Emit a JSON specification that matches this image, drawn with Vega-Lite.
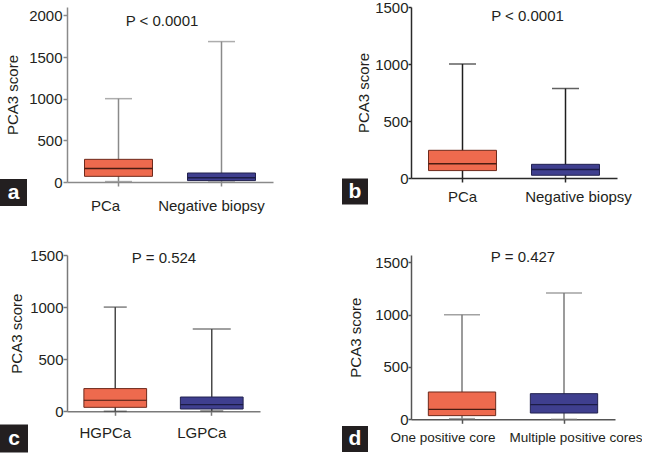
{
  "$schema": "https://vega.github.io/schema/vega-lite/v6.json",
  "background": "white",
  "padding": 0,
  "config": {
    "font": "Liberation Sans",
    "numberFormat": "d",
    "view": {"stroke": null},
    "axis": {"labelFont": "Liberation Sans", "titleFont": "Liberation Sans", "labelColor": "#231f20", "titleColor": "#231f20", "grid": false, "titleFontWeight": "normal", "labelFontSize": 15, "titleFontSize": 15, "domainWidth": 1.5, "tickWidth": 1.5},
    "title": {"font": "Liberation Sans", "fontSize": 15, "fontWeight": "normal", "color": "#231f20"}
  },
  "columns": 2,
  "bounds": "flush",
  "align": "each",
  "spacing": {"row": 73, "column": 138},
  "resolve": {"scale": {"fill": "independent", "x": "independent", "y": "independent"}, "legend": {"fill": "independent"}},
  "concat": [
    {
      "width": 206, "height": 175,
      "title": {"text": "P < 0.0001", "frame": "group", "anchor": "middle", "baseline": "alphabetic", "offset": -30, "dx": -8, "dy": 4},
      "data": {"values": [
        {"panel": "a", "group": "PCa", "min": 5, "q1": 68, "median": 161, "q3": 272, "max": 1000},
        {"panel": "a", "group": "Negative biopsy", "min": 0, "q1": 17, "median": 50, "q3": 108, "max": 1685}
      ]},
      "encoding": {
        "x": {"field": "group", "type": "nominal", "sort": null, "scale": {"paddingInner": 0.34, "paddingOuter": 0.17},
          "axis": {"title": null, "labelAngle": 0, "labelPadding": 12, "tickSize": 4, "domainColor": "#8a8a8a", "tickColor": "#8a8a8a",
            "labelOffset": {"condition": {"test": "datum.value === 'PCa'", "value": -13}, "value": -10}}}
      },
      "layer": [
        {"mark": {"type": "square", "opacity": 0},
          "encoding": {"y": {"field": "median", "type": "quantitative", "scale": {"domain": [0, 2100], "nice": false},
            "axis": {"title": "PCA3 score", "values": [0, 500, 1000, 1500, 2000], "tickSize": 4, "labelPadding": 1, "titlePadding": 8, "domainColor": "#8a8a8a", "tickColor": "#8a8a8a"}},
            "fill": {"field": "panel", "type": "nominal", "scale": {"range": ["#231f20"]},
              "legend": {"orient": "none", "legendX": -67, "legendY": 172, "title": null, "symbolType": "square", "symbolSize": 729, "symbolStrokeWidth": 0, "symbolOpacity": 1, "labelColor": "#ffffff", "labelFontSize": 21, "labelFontWeight": "bold", "labelAlign": "center", "labelBaseline": "middle", "labelOffset": -13.5, "padding": 0}}}},
        {"mark": {"type": "rule", "color": "#8a8a8a", "strokeWidth": 1.5},
          "encoding": {"y": {"field": "min", "type": "quantitative",
            "axis": {"title": "PCA3 score", "values": [0, 500, 1000, 1500, 2000], "tickSize": 4, "labelPadding": 1, "titlePadding": 8, "domainColor": "#8a8a8a", "tickColor": "#8a8a8a"}},
            "y2": {"field": "max"}}},
        {"mark": {"type": "tick", "color": "#8a8a8a", "thickness": 1.5, "size": 27},
          "encoding": {"y": {"field": "max", "type": "quantitative",
            "axis": {"title": "PCA3 score", "values": [0, 500, 1000, 1500, 2000], "tickSize": 4, "labelPadding": 1, "titlePadding": 8, "domainColor": "#8a8a8a", "tickColor": "#8a8a8a"}}}},
        {"mark": {"type": "tick", "color": "#8a8a8a", "thickness": 1.5, "size": 27},
          "encoding": {"y": {"field": "min", "type": "quantitative",
            "axis": {"title": "PCA3 score", "values": [0, 500, 1000, 1500, 2000], "tickSize": 4, "labelPadding": 1, "titlePadding": 8, "domainColor": "#8a8a8a", "tickColor": "#8a8a8a"}}}},
        {"mark": {"type": "bar", "strokeWidth": 1},
          "encoding": {"y": {"field": "q1", "type": "quantitative",
            "axis": {"title": "PCA3 score", "values": [0, 500, 1000, 1500, 2000], "tickSize": 4, "labelPadding": 1, "titlePadding": 8, "domainColor": "#8a8a8a", "tickColor": "#8a8a8a"}}, "y2": {"field": "q3"},
            "fill": {"condition": {"test": "datum.group === 'PCa'", "value": "#ee6a4e"}, "value": "#3f3f8f"},
            "stroke": {"condition": {"test": "datum.group === 'PCa'", "value": "#6e2a1c"}, "value": "#22224f"}}},
        {"mark": {"type": "bar", "strokeWidth": 1.5},
          "encoding": {"y": {"field": "median", "type": "quantitative",
            "axis": {"title": "PCA3 score", "values": [0, 500, 1000, 1500, 2000], "tickSize": 4, "labelPadding": 1, "titlePadding": 8, "domainColor": "#8a8a8a", "tickColor": "#8a8a8a"}}, "y2": {"field": "median"},
            "stroke": {"condition": {"test": "datum.group === 'PCa'", "value": "#4a1c12"}, "value": "#1c1c45"}}}
      ]
    },
    {
      "width": 206, "height": 171,
      "title": {"text": "P < 0.0001", "frame": "group", "anchor": "middle", "baseline": "alphabetic", "offset": -35, "dx": 13.5, "dy": 1},
      "data": {"values": [
        {"panel": "b", "group": "PCa", "min": 0, "q1": 65, "median": 126, "q3": 243, "max": 1000},
        {"panel": "b", "group": "Negative biopsy", "min": 0, "q1": 24, "median": 74, "q3": 120, "max": 785}
      ]},
      "encoding": {
        "x": {"field": "group", "type": "nominal", "sort": null, "scale": {"paddingInner": 0.34, "paddingOuter": 0.17},
          "axis": {"title": null, "labelAngle": 0, "labelPadding": 7, "tickSize": 4, "domainColor": "#2a2a2a", "tickColor": "#2a2a2a",
            "labelOffset": {"condition": {"test": "datum.value === 'PCa'", "value": 0}, "value": 13}}}
      },
      "layer": [
        {"mark": {"type": "square", "opacity": 0},
          "encoding": {"y": {"field": "median", "type": "quantitative", "scale": {"domain": [0, 1500], "nice": false},
            "axis": {"title": "PCA3 score", "values": [0, 500, 1000, 1500], "tickSize": 3, "labelPadding": 0, "titlePadding": 3, "domainColor": "#2a2a2a", "tickColor": "#2a2a2a"}},
            "fill": {"field": "panel", "type": "nominal", "scale": {"range": ["#231f20"]},
              "legend": {"orient": "none", "legendX": -69, "legendY": 171.5, "title": null, "symbolType": "square", "symbolSize": 676, "symbolStrokeWidth": 0, "symbolOpacity": 1, "labelColor": "#ffffff", "labelFontSize": 21, "labelFontWeight": "bold", "labelAlign": "center", "labelBaseline": "middle", "labelOffset": -13, "padding": 0}}}},
        {"mark": {"type": "rule", "color": "#1e1e1e", "strokeWidth": 1.5},
          "encoding": {"y": {"field": "min", "type": "quantitative",
            "axis": {"title": "PCA3 score", "values": [0, 500, 1000, 1500], "tickSize": 3, "labelPadding": 0, "titlePadding": 3, "domainColor": "#2a2a2a", "tickColor": "#2a2a2a"}},
            "y2": {"field": "max"}}},
        {"mark": {"type": "tick", "color": "#1e1e1e", "thickness": 1.5, "size": 27},
          "encoding": {"y": {"field": "max", "type": "quantitative",
            "axis": {"title": "PCA3 score", "values": [0, 500, 1000, 1500], "tickSize": 3, "labelPadding": 0, "titlePadding": 3, "domainColor": "#2a2a2a", "tickColor": "#2a2a2a"}}}},
        {"mark": {"type": "bar", "strokeWidth": 1},
          "encoding": {"y": {"field": "q1", "type": "quantitative",
            "axis": {"title": "PCA3 score", "values": [0, 500, 1000, 1500], "tickSize": 3, "labelPadding": 0, "titlePadding": 3, "domainColor": "#2a2a2a", "tickColor": "#2a2a2a"}}, "y2": {"field": "q3"},
            "fill": {"condition": {"test": "datum.group === 'PCa'", "value": "#ee6a4e"}, "value": "#3f3f8f"},
            "stroke": {"condition": {"test": "datum.group === 'PCa'", "value": "#6e2a1c"}, "value": "#22224f"}}},
        {"mark": {"type": "bar", "strokeWidth": 1.5},
          "encoding": {"y": {"field": "median", "type": "quantitative",
            "axis": {"title": "PCA3 score", "values": [0, 500, 1000, 1500], "tickSize": 3, "labelPadding": 0, "titlePadding": 3, "domainColor": "#2a2a2a", "tickColor": "#2a2a2a"}}, "y2": {"field": "median"},
            "stroke": {"condition": {"test": "datum.group === 'PCa'", "value": "#4a1c12"}, "value": "#1c1c45"}}}
      ]
    },
    {
      "width": 193, "height": 156.3,
      "title": {"text": "P = 0.524", "frame": "group", "anchor": "middle", "baseline": "alphabetic", "offset": -31, "dx": 0.5, "dy": -1},
      "data": {"values": [
        {"panel": "c", "group": "HGPCa", "min": 0, "q1": 38, "median": 106, "q3": 218, "max": 1000},
        {"panel": "c", "group": "LGPCa", "min": 3, "q1": 22, "median": 64, "q3": 137, "max": 790}
      ]},
      "encoding": {
        "x": {"field": "group", "type": "nominal", "sort": null, "scale": {"paddingInner": 0.35, "paddingOuter": 0.175},
          "axis": {"title": null, "labelAngle": 0, "labelPadding": 10.5, "tickSize": 4, "domainColor": "#7a7a7a", "tickColor": "#7a7a7a", "labelOffset": -10}}
      },
      "layer": [
        {"mark": {"type": "square", "opacity": 0},
          "encoding": {"y": {"field": "median", "type": "quantitative", "scale": {"domain": [0, 1500], "nice": false},
            "axis": {"title": "PCA3 score", "values": [0, 500, 1000, 1500], "tickSize": 4, "labelPadding": 0, "titlePadding": 5, "domainColor": "#7a7a7a", "tickColor": "#7a7a7a"}},
            "fill": {"field": "panel", "type": "nominal", "scale": {"range": ["#231f20"]},
              "legend": {"orient": "none", "legendX": -67, "legendY": 169.5, "title": null, "symbolType": "square", "symbolSize": 784, "symbolStrokeWidth": 0, "symbolOpacity": 1, "labelColor": "#ffffff", "labelFontSize": 21, "labelFontWeight": "bold", "labelAlign": "center", "labelBaseline": "middle", "labelOffset": -14, "padding": 0}}}},
        {"mark": {"type": "rule", "color": "#4a4a4a", "strokeWidth": 1.5},
          "encoding": {"y": {"field": "min", "type": "quantitative",
            "axis": {"title": "PCA3 score", "values": [0, 500, 1000, 1500], "tickSize": 4, "labelPadding": 0, "titlePadding": 5, "domainColor": "#7a7a7a", "tickColor": "#7a7a7a"}},
            "y2": {"field": "max"}}},
        {"mark": {"type": "tick", "color": "#4a4a4a", "thickness": 1.5},
          "encoding": {"y": {"field": "max", "type": "quantitative",
            "axis": {"title": "PCA3 score", "values": [0, 500, 1000, 1500], "tickSize": 4, "labelPadding": 0, "titlePadding": 5, "domainColor": "#7a7a7a", "tickColor": "#7a7a7a"}},
            "size": {"condition": {"test": "datum.group === 'HGPCa'", "value": 23}, "value": 38}}},
        {"mark": {"type": "tick", "color": "#4a4a4a", "thickness": 1.5, "size": 23},
          "encoding": {"y": {"field": "min", "type": "quantitative",
            "axis": {"title": "PCA3 score", "values": [0, 500, 1000, 1500], "tickSize": 4, "labelPadding": 0, "titlePadding": 5, "domainColor": "#7a7a7a", "tickColor": "#7a7a7a"}}}},
        {"mark": {"type": "bar", "strokeWidth": 1},
          "encoding": {"y": {"field": "q1", "type": "quantitative",
            "axis": {"title": "PCA3 score", "values": [0, 500, 1000, 1500], "tickSize": 4, "labelPadding": 0, "titlePadding": 5, "domainColor": "#7a7a7a", "tickColor": "#7a7a7a"}}, "y2": {"field": "q3"},
            "fill": {"condition": {"test": "datum.group === 'HGPCa'", "value": "#ee6a4e"}, "value": "#3f3f8f"},
            "stroke": {"condition": {"test": "datum.group === 'HGPCa'", "value": "#6e2a1c"}, "value": "#22224f"}}},
        {"mark": {"type": "bar", "strokeWidth": 1.2},
          "encoding": {"y": {"field": "median", "type": "quantitative",
            "axis": {"title": "PCA3 score", "values": [0, 500, 1000, 1500], "tickSize": 4, "labelPadding": 0, "titlePadding": 5, "domainColor": "#7a7a7a", "tickColor": "#7a7a7a"}}, "y2": {"field": "median"},
            "stroke": {"condition": {"test": "datum.group === 'HGPCa'", "value": "#4a1c12"}, "value": "#1c1c45"}}}
      ]
    },
    {
      "width": 204, "height": 164.3,
      "title": {"text": "P = 0.427", "frame": "group", "anchor": "middle", "baseline": "alphabetic", "offset": -24, "dx": 10, "dy": -2.5},
      "data": {"values": [
        {"panel": "d", "group": "One positive core", "min": 6, "q1": 35, "median": 95, "q3": 261, "max": 1000},
        {"panel": "d", "group": "Multiple positive cores", "min": 0, "q1": 60, "median": 140, "q3": 245, "max": 1207}
      ]},
      "encoding": {
        "x": {"field": "group", "type": "nominal", "sort": null, "scale": {"paddingInner": 0.34, "paddingOuter": 0.17},
          "axis": {"title": null, "labelAngle": 0, "labelFontSize": 13.5, "labelPadding": 7.5, "tickSize": 4, "domainColor": "#555555", "tickColor": "#555555",
            "labelOffset": {"condition": {"test": "datum.value === 'One positive core'", "value": -19}, "value": 12}}}
      },
      "layer": [
        {"mark": {"type": "square", "opacity": 0},
          "encoding": {"y": {"field": "median", "type": "quantitative", "scale": {"domain": [0, 1570], "nice": false},
            "axis": {"title": "PCA3 score", "values": [0, 500, 1000, 1500], "tickSize": 3, "labelPadding": 0, "titlePadding": 11, "domainColor": "#555555", "tickColor": "#555555"}},
            "fill": {"field": "panel", "type": "nominal", "scale": {"range": ["#231f20"]},
              "legend": {"orient": "none", "legendX": -69, "legendY": 171, "title": null, "symbolType": "square", "symbolSize": 676, "symbolStrokeWidth": 0, "symbolOpacity": 1, "labelColor": "#ffffff", "labelFontSize": 21, "labelFontWeight": "bold", "labelAlign": "center", "labelBaseline": "middle", "labelOffset": -13, "padding": 0}}}},
        {"mark": {"type": "rule", "color": "#7a7a7a", "strokeWidth": 1.5},
          "encoding": {"y": {"field": "min", "type": "quantitative",
            "axis": {"title": "PCA3 score", "values": [0, 500, 1000, 1500], "tickSize": 3, "labelPadding": 0, "titlePadding": 11, "domainColor": "#555555", "tickColor": "#555555"}},
            "y2": {"field": "max"}}},
        {"mark": {"type": "tick", "color": "#7a7a7a", "thickness": 1.5, "size": 36},
          "encoding": {"y": {"field": "max", "type": "quantitative",
            "axis": {"title": "PCA3 score", "values": [0, 500, 1000, 1500], "tickSize": 3, "labelPadding": 0, "titlePadding": 11, "domainColor": "#555555", "tickColor": "#555555"}}}},
        {"mark": {"type": "tick", "color": "#7a7a7a", "thickness": 1.5, "size": 26},
          "encoding": {"y": {"field": "min", "type": "quantitative",
            "axis": {"title": "PCA3 score", "values": [0, 500, 1000, 1500], "tickSize": 3, "labelPadding": 0, "titlePadding": 11, "domainColor": "#555555", "tickColor": "#555555"}}}},
        {"mark": {"type": "bar", "strokeWidth": 1},
          "encoding": {"y": {"field": "q1", "type": "quantitative",
            "axis": {"title": "PCA3 score", "values": [0, 500, 1000, 1500], "tickSize": 3, "labelPadding": 0, "titlePadding": 11, "domainColor": "#555555", "tickColor": "#555555"}}, "y2": {"field": "q3"},
            "fill": {"condition": {"test": "datum.group === 'One positive core'", "value": "#ee6a4e"}, "value": "#3f3f8f"},
            "stroke": {"condition": {"test": "datum.group === 'One positive core'", "value": "#6e2a1c"}, "value": "#22224f"}}},
        {"mark": {"type": "bar", "strokeWidth": 1.2},
          "encoding": {"y": {"field": "median", "type": "quantitative",
            "axis": {"title": "PCA3 score", "values": [0, 500, 1000, 1500], "tickSize": 3, "labelPadding": 0, "titlePadding": 11, "domainColor": "#555555", "tickColor": "#555555"}}, "y2": {"field": "median"},
            "stroke": {"condition": {"test": "datum.group === 'One positive core'", "value": "#4a1c12"}, "value": "#1c1c45"}}}
      ]
    }
  ]
}
